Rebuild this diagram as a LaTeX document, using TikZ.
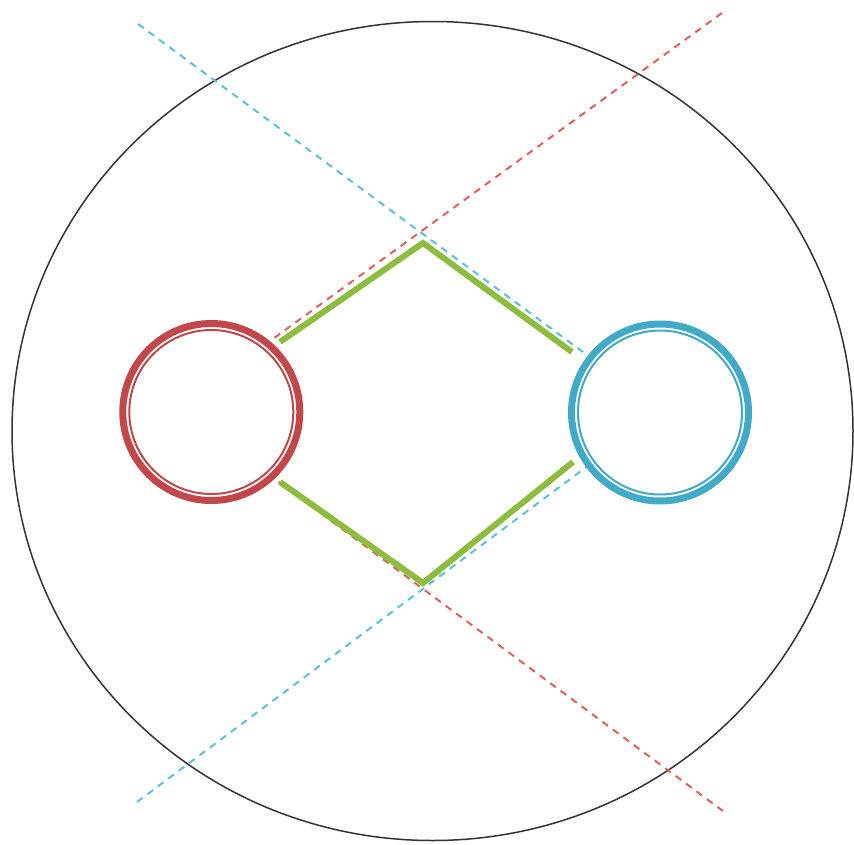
\documentclass[tikz,border=0pt]{standalone}
\definecolor{ringred}{HTML}{C2474A}
\definecolor{ringblue}{HTML}{42AAC9}
\definecolor{dashred}{HTML}{E0605E}
\definecolor{dashblue}{HTML}{5BC1DB}
\definecolor{leaf}{HTML}{8DBD3E}
\begin{document}
\begin{tikzpicture}[x=1pt,y=-1pt,
  guide/.style={line width=2pt, dash pattern=on 7pt off 6pt},
  bond/.style={draw=leaf, line width=6pt, line join=miter},
  ringouter/.style={line width=7pt, fill=white},
  ringinner/.style={line width=2pt},
  hull/.style={line width=1.5pt, draw=black!80}]
\useasboundingbox (0,0) rectangle (854,844);
% outer boundary
\draw[hull] (432.5,431) ellipse [x radius=420.5, y radius=409.5];
% coordinates
\coordinate (redc) at (211.3,412);
\coordinate (bluec) at (660,412.5);
\coordinate (rTR) at (722,13);
\coordinate (rTin) at (230,370);
\coordinate (rBR) at (723,811);
\coordinate (rBin) at (230,446);
\coordinate (bTL) at (138,24);
\coordinate (bTin) at (640,394);
\coordinate (bBL) at (137,802);
\coordinate (bBin) at (640,427);
% dashed guides (hidden inside rings)
\draw[guide, draw=dashred] (rTR) -- (rTin);
\draw[guide, draw=dashred] (rBR) -- (rBin);
\draw[guide, draw=dashblue] (bTL) -- (bTin);
\draw[guide, draw=dashblue] (bBL) -- (bBin);
% rings
\draw[ringouter, draw=ringred] (redc) circle [radius=88.5];
\draw[ringinner, draw=ringred] (redc) circle [radius=82];
\draw[ringouter, draw=ringblue] (bluec) circle [radius=88.5];
\draw[ringinner, draw=ringblue] (bluec) circle [radius=82];
% green bonds
\coordinate (gUL) at (280,342);
\coordinate (gTop) at (423,243);
\coordinate (gUR) at (572,352);
\coordinate (gLL) at (280,482);
\coordinate (gBot) at (423,583);
\coordinate (gLR) at (573,462);
\draw[bond] (gUL) -- (gTop) -- (gUR);
\draw[bond] (gLL) -- (gBot) -- (gLR);
\end{tikzpicture}
\end{document}
